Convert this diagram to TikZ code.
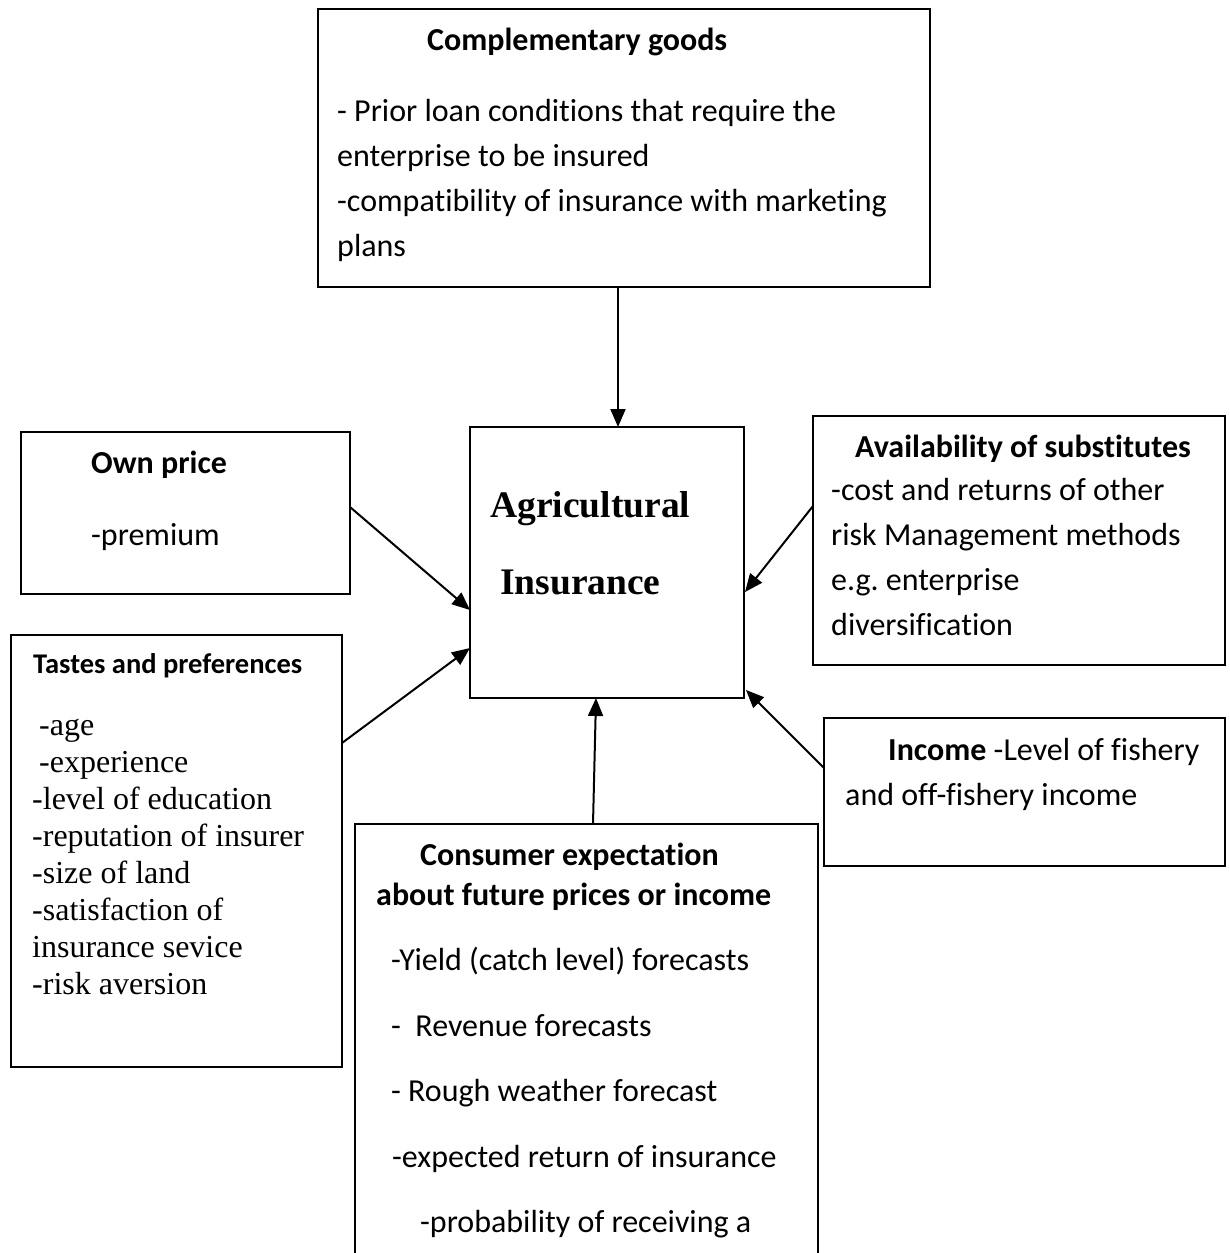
\documentclass[tikz,border=0pt]{standalone}
\usepackage{fontspec}
\setmainfont{Liberation Serif}
\newfontfamily\calfont[Ligatures=NoCommon]{Carlito}
\usetikzlibrary{arrows.meta}
\frenchspacing
\begin{document}
\begin{tikzpicture}[x=1pt,y=-1pt,
  box/.style={draw,line width=1.8pt,anchor=north west,inner sep=0pt,outer sep=0pt},
  arr/.style={line width=2pt,-{Triangle[length=18pt,width=15pt]}},
  ct/.style={anchor=base west,inner sep=0pt,font=\calfont\fontsize{32}{32}\selectfont},
  cb/.style={anchor=base west,inner sep=0pt,font=\calfont\bfseries\fontsize{32}{32}\selectfont},
  tt/.style={anchor=base west,inner sep=0pt,font=\fontsize{32}{32}\selectfont},
  tb/.style={anchor=base west,inner sep=0pt,font=\bfseries\fontsize{37.5}{37.5}\selectfont}]
\path[use as bounding box] (0,0) rectangle (1230,1253);
\clip (0,0) rectangle (1230,1253);
\fill[white] (0,0) rectangle (1230,1253);

% boxes
\node[box,minimum width=612pt,minimum height=278pt] (comp) at (318,9) {};
\node[box,minimum width=274pt,minimum height=271pt] (center) at (470,427) {};
\node[box,minimum width=329pt,minimum height=162pt] (own) at (21,432) {};
\node[box,minimum width=412pt,minimum height=249pt] (avail) at (813,416) {};
\node[box,minimum width=331pt,minimum height=432pt] (tastes) at (11,635) {};
\node[box,minimum width=401pt,minimum height=148pt] (income) at (824,718) {};
\node[box,minimum width=463pt,minimum height=470pt] (consumer) at (355,824) {};

% complementary goods
\node[cb] (compH) at (427,50) {Complementary goods};
\node[ct] (compL1) at (337,121) {- Prior loan conditions that require the};
\node[ct] (compL2) at (337,166) {enterprise to be insured};
\node[ct] (compL3) at (337,211) {-compatibility of insurance with marketing};
\node[ct] (compL4) at (337,256) {plans};

% center
\node[tb] (centerL1) at (490,517) {Agricultural};
\node[tb] (centerL2) at (500,594) {Insurance};

% own price
\node[cb] (ownH) at (91,473) {Own price};
\node[ct] (ownL1) at (91,545) {-premium};

% availability
\node[cb] (availH) at (855,457) {Availability of substitutes};
\node[ct] (availL1) at (831,500) {-cost and returns of other};
\node[ct] (availL2) at (831,545) {risk Management methods};
\node[ct] (availL3) at (831,590) {e.g.\ enterprise};
\node[ct] (availL4) at (831,635) {diversification};

% tastes
\node[anchor=base west,inner sep=0pt,font=\calfont\bfseries\fontsize{28.5}{28.5}\selectfont] (tastesH) at (33,673) {Tastes and preferences};
\node[tt] (tL1) at (39,735) {-age};
\node[tt] (tL2) at (39,772) {-experience};
\node[tt] (tL3) at (32,809) {-level of education};
\node[tt] (tL4) at (32,846) {-reputation of insurer};
\node[tt] (tL5) at (32,883) {-size of land};
\node[tt] (tL6) at (32,920) {-satisfaction of};
\node[tt] (tL7) at (32,957) {insurance sevice};
\node[tt] (tL8) at (32,994) {-risk aversion};

% income
\node[ct] (incL1) at (888,760) {\textbf{Income} -Level of fishery};
\node[ct] (incL2) at (845,805) {and off-fishery income};

% consumer
\node[cb] (conH1) at (420,865) {Consumer expectation};
\node[cb] (conH2) at (376,905) {about future prices or income};
\node[ct] (conL1) at (391,970) {-Yield (catch level) forecasts};
\node[ct] (conL2) at (391,1036) {-\ \ Revenue forecasts};
\node[ct] (conL3) at (391,1101) {- Rough weather forecast};
\node[ct] (conL4) at (392,1167) {-expected return of insurance};
\node[ct] (conL5) at (420,1232) {-probability of receiving a};

% connection points
\coordinate (compOut) at (comp.south -| 618,0);
\coordinate (centerTop) at (618,427);
\coordinate (ownOut) at (350,507);
\coordinate (centerW1) at (470,610);
\coordinate (tastesOut) at (342,743);
\coordinate (centerW2) at (470,648);
\coordinate (availOut) at (813,506);
\coordinate (centerE1) at (745,592);
\coordinate (incomeOut) at (824,768);
\coordinate (centerSE) at (746,690);
\coordinate (consumerOut) at (593,824);
\coordinate (centerBot) at (596,698);

\draw[arr] (compOut) -- (centerTop);
\draw[arr] (ownOut) -- (centerW1);
\draw[arr] (tastesOut) -- (centerW2);
\draw[arr] (availOut) -- (centerE1);
\draw[arr] (incomeOut) -- (centerSE);
\draw[arr] (consumerOut) -- (centerBot);
\end{tikzpicture}
\end{document}
